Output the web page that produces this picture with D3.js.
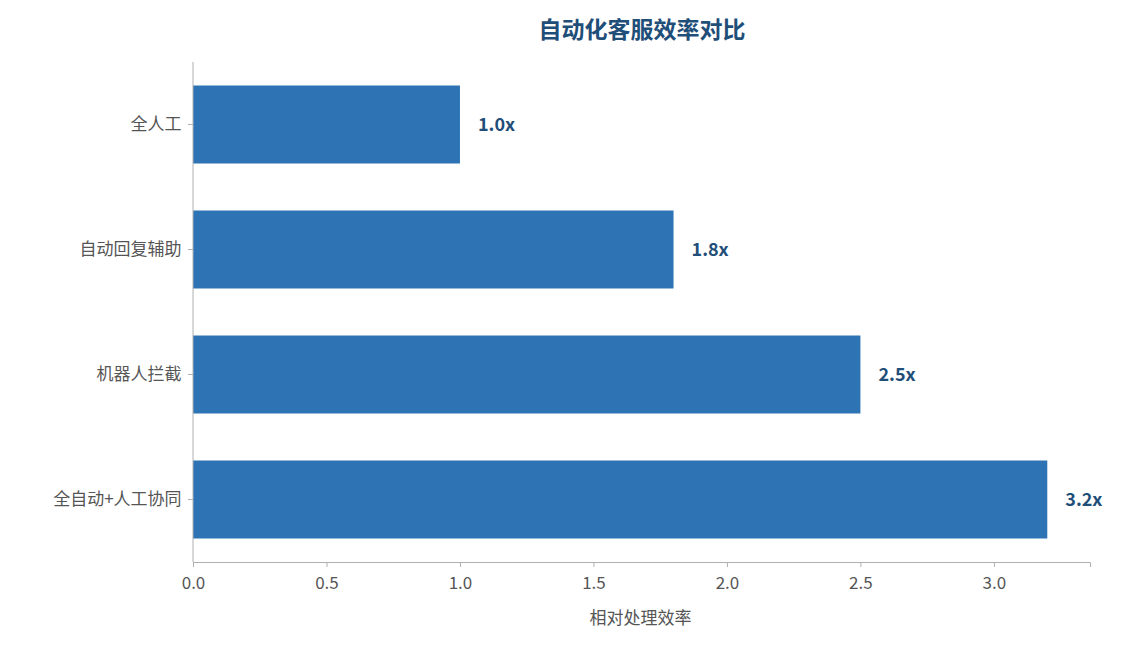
<!DOCTYPE html>
<html>
<head>
<meta charset="UTF-8">
<script src="https://cdn.jsdelivr.net/npm/d3@7"></script>
<style>
  body { margin: 0; background: #fff; }
  text { font-family: "Noto Sans CJK SC", "Noto Sans", sans-serif; }
</style>
</head>
<body>
<svg id="chart" width="1124" height="645"></svg>
<script>
// data
var categories = ["全人工", "自动回复辅助", "机器人拦截", "全自动+人工协同"];
var values = [1.0, 1.8, 2.5, 3.2];
var valueLabels = ["1.0x", "1.8x", "2.5x", "3.2x"];
var xTicks = [0, 0.5, 1.0, 1.5, 2.0, 2.5, 3.0];

var svg = d3.select("#chart");
var mLeft = 193, mRight = 1090, mTop = 62, mBottom = 562;

var x = d3.scaleLinear().domain([0, 3.36]).range([mLeft, mRight]);
var y = d3.scaleBand().domain(categories).range([mTop, mBottom])
  .paddingInner(0.376).paddingOuter(0.188);

// title
svg.append("text")
  .attr("x", 642).attr("y", 38)
  .attr("text-anchor", "middle")
  .attr("font-size", 23).attr("font-weight", "bold")
  .attr("fill", "#1F4E79")
  .text("自动化客服效率对比");

// bars
svg.selectAll(".bar").data(values).enter()
  .append("rect")
  .attr("class", "bar")
  .attr("x", x(0))
  .attr("y", function (d, i) { return y(categories[i]); })
  .attr("width", function (d) { return x(d) - x(0); })
  .attr("height", y.bandwidth())
  .attr("fill", "#2E74B5");

svg.selectAll(".val").data(values).enter()
  .append("text")
  .attr("x", function (d) { return x(d) + 18; })
  .attr("y", function (d, i) { return y(categories[i]) + y.bandwidth() / 2; })
  .attr("dy", "0.35em")
  .attr("font-size", 18).attr("font-weight", "bold")
  .attr("fill", "#1F4E79")
  .text(function (d, i) { return valueLabels[i]; });

// axes
var xAxis = svg.append("g")
  .attr("transform", "translate(0," + mBottom + ")")
  .call(d3.axisBottom(x).tickValues(xTicks).tickFormat(d3.format(".1f")).tickSizeOuter(0).tickSize(5));
var yAxis = svg.append("g")
  .attr("transform", "translate(" + mLeft + ",0)")
  .call(d3.axisLeft(y).tickSizeOuter(0).tickSize(5));

[xAxis, yAxis].forEach(function (g) {
  g.select(".domain").attr("stroke", "#b0b0b0");
  g.selectAll(".tick line").attr("stroke", "#b0b0b0");
  g.selectAll(".tick text").attr("fill", "#555").attr("font-size", 17)
    .style("font-family", "\"Noto Sans CJK SC\", sans-serif");
});
xAxis.selectAll(".tick text").attr("dy", "1.1em");
yAxis.selectAll(".tick text").attr("dx", "-0.2em");
yAxis.select(".domain").attr("d", "M0," + mTop + "V" + mBottom);

svg.append("text")
  .attr("x", (mLeft + mRight) / 2 - 1).attr("y", 624)
  .attr("text-anchor", "middle")
  .attr("font-size", 17).attr("fill", "#555")
  .text("相对处理效率");
</script>
</body>
</html>
